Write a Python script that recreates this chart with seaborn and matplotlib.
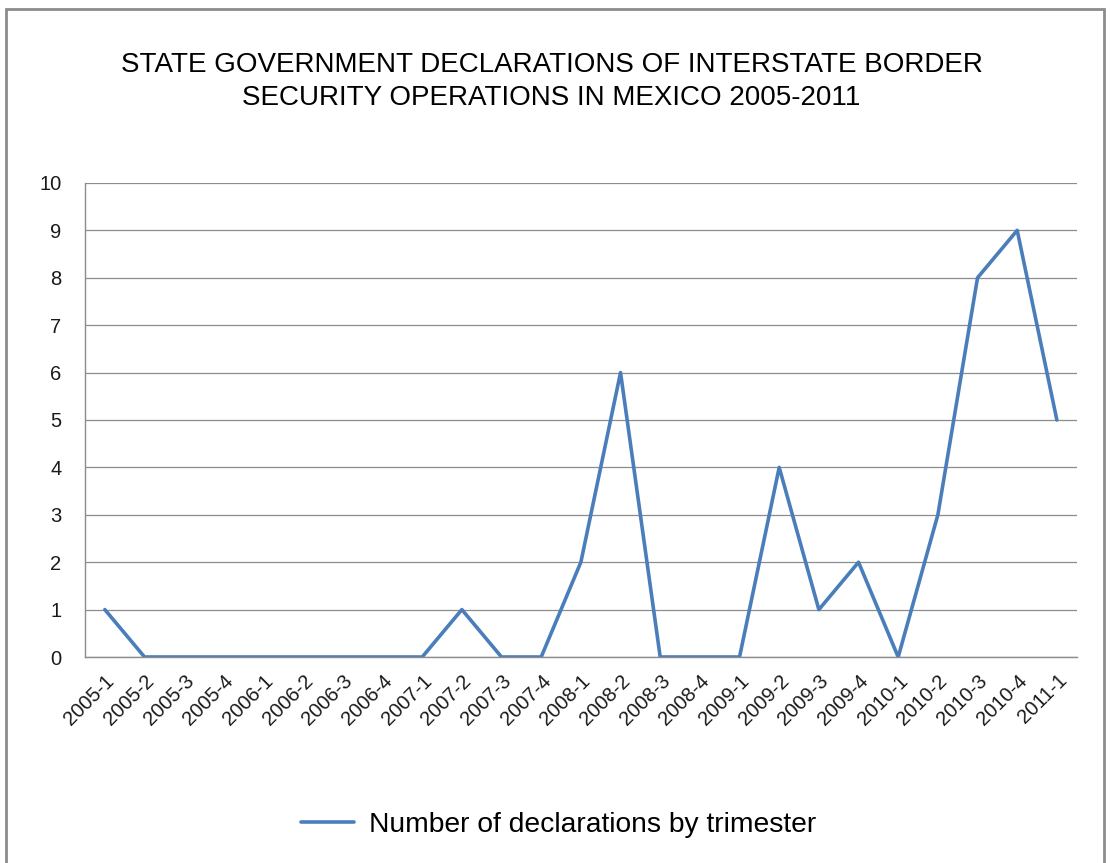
import matplotlib
matplotlib.use("Agg")
import matplotlib.pyplot as plt
import seaborn as sns
import pandas as pd
from matplotlib.patches import Rectangle

# trimesters and counts
trimesters = ["2005-1", "2005-2", "2005-3", "2005-4", "2006-1", "2006-2", "2006-3", "2006-4",
              "2007-1", "2007-2", "2007-3", "2007-4", "2008-1", "2008-2", "2008-3", "2008-4",
              "2009-1", "2009-2", "2009-3", "2009-4", "2010-1", "2010-2", "2010-3", "2010-4",
              "2011-1"]
declarations = [1, 0, 0, 0, 0, 0, 0, 0, 0, 1, 0, 0, 2, 6, 0, 0, 0, 4, 1, 2, 0, 3, 8, 9, 5]

df = pd.DataFrame({"pos": range(len(trimesters)), "Trimester": trimesters,
                   "Declarations": declarations})

sns.set_style("white")
plt.rcParams["font.family"] = ["Liberation Sans", "DejaVu Sans"]

fig = plt.figure(figsize=(11.1, 8.63), dpi=100)
ax = fig.add_axes([0.0766, 0.2387, 0.8934, 0.5493])

sns.lineplot(data=df, x="pos", y="Declarations", ax=ax, color="#4A7EBB", linewidth=2.6,
             label="Number of declarations by trimester", legend=False)

ax.set_xlim(-0.5, len(trimesters) - 0.5)
ax.set_ylim(0, 10)
ax.set_yticks(range(0, 11))
ax.yaxis.grid(True, color="#8c8c8c", linewidth=0.9)
ax.xaxis.grid(False)
ax.set_xticks(range(len(trimesters)))
ax.set_xticklabels(trimesters, rotation=45, ha="right", rotation_mode="anchor", fontsize=14.5)
ax.set_xticks([i - 0.5 for i in range(len(trimesters) + 1)], minor=True)
ax.tick_params(axis="x", which="major", length=0, pad=10)
ax.tick_params(axis="x", which="minor", length=5, color="#8c8c8c", direction="out")
ax.tick_params(axis="y", length=7, color="#8c8c8c", direction="out", labelsize=14.5, pad=10)
ax.tick_params(labelcolor="#1a1a1a")
ax.set_xlabel("")
ax.set_ylabel("")
for s in ["top", "right"]:
    ax.spines[s].set_visible(False)
for s in ["left", "bottom"]:
    ax.spines[s].set_color("#8c8c8c")
    ax.spines[s].set_linewidth(1.0)

fig.text(0.497, 0.906, "STATE GOVERNMENT DECLARATIONS OF INTERSTATE BORDER\nSECURITY OPERATIONS IN MEXICO 2005-2011",
         ha="center", va="center", fontsize=20, linespacing=1.35, color="black")

handles, labels = ax.get_legend_handles_labels()
leg = fig.legend(handles, labels, loc="center", bbox_to_anchor=(0.503, 0.044), frameon=False,
                 fontsize=20.3, handlelength=1.9, handletextpad=0.5)
for t in leg.get_texts():
    t.set_color("black")

fig.patches.append(Rectangle((0.005, -0.01), 0.99, 1.0, transform=fig.transFigure,
                             fill=False, edgecolor="#8c8c8c", linewidth=2))

fig.savefig("out.png", dpi=100)
